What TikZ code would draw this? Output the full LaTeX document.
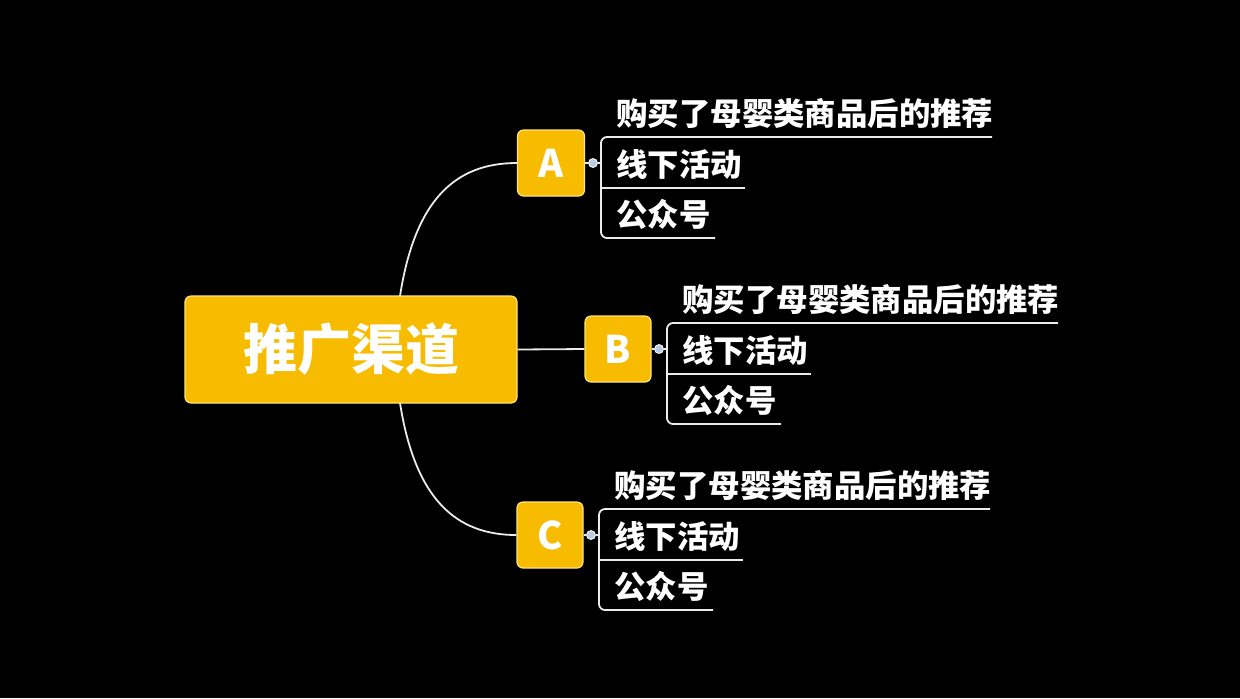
\documentclass[tikz,border=0pt]{standalone}
\usepackage{fontspec}
\setmainfont{Noto Sans CJK SC}
\definecolor{gold}{HTML}{F7BC00}
\definecolor{goldedge}{HTML}{FFE27A}
\definecolor{dotblue}{HTML}{B9CCE2}
\tikzset{
  x=0.5pt, y=-0.5pt,
  goldbox/.style={draw=goldedge, line width=0.6pt, fill=gold, rounded corners=3pt, text=white, font=\bfseries, inner sep=0pt},
  itemtext/.style={text=white, font=\bfseries\fontsize{15.7pt}{15.7pt}\selectfont, inner sep=0pt, anchor=west},
  wline/.style={draw=white!92!black, line width=0.9pt},
  dotnode/.style={circle, fill=dotblue, draw=white, line width=0.4pt, minimum size=4.5pt, inner sep=0pt},
}
\newcommand\mybranch[4]{%
\begin{scope}[shift={(#3,#4)}]
  \node[dotnode] (#1dot) at (593,163) {};
  \coordinate (#1br) at (601,163);
  \coordinate (#1e1) at (992,137);
  \coordinate (#1e2) at (745,188);
  \coordinate (#1e3) at (715,238);
  \coordinate (#1mid) at (601,188);
  \node[itemtext] (#1t1) at (616,113) {购买了母婴类商品后的推荐};
  \node[itemtext] (#1t2) at (616,164) {线下活动};
  \node[itemtext] (#1t3) at (616,214) {公众号};
  \draw[wline] (#2.east) -- (#1dot) -- (#1br);
  \draw[wline, rounded corners=3pt] (#1e1) -- (601,137) -- (601,238) -- (#1e3);
  \draw[wline] (#1mid) -- (#1e2);
\end{scope}}
\begin{document}
\begin{tikzpicture}
\fill[black] (0,0) rectangle (1240,698);
\useasboundingbox (0,0) rectangle (1240,698);
\node[goldbox, minimum width=166pt, minimum height=53.5pt, font=\bfseries\fontsize{27pt}{27pt}\selectfont] (root) at (351,349.5) {推广渠道};
\node[goldbox, minimum width=33.5pt, minimum height=33pt, font=\bfseries\fontsize{19pt}{19pt}\selectfont] (A) at (551,163) {A};
\node[goldbox, minimum width=33pt, minimum height=33pt, font=\bfseries\fontsize{19pt}{19pt}\selectfont] (B) at (618,349) {B};
\node[goldbox, minimum width=33pt, minimum height=33pt, font=\bfseries\fontsize{19pt}{19pt}\selectfont] (C) at (550,535) {C};
\coordinate (rtop) at (400,296);
\coordinate (rbot) at (400,403);
\draw[wline] (rtop) .. controls (415,200) and (455,163) .. (A.west);
\draw[wline] (rbot) .. controls (415,498) and (455,535) .. (C.west);
\draw[wline] (root.east) -- (B.west);
\mybranch{a}{A}{0}{0}
\mybranch{b}{B}{66}{186}
\mybranch{c}{C}{-2}{372}
\end{tikzpicture}
\end{document}
